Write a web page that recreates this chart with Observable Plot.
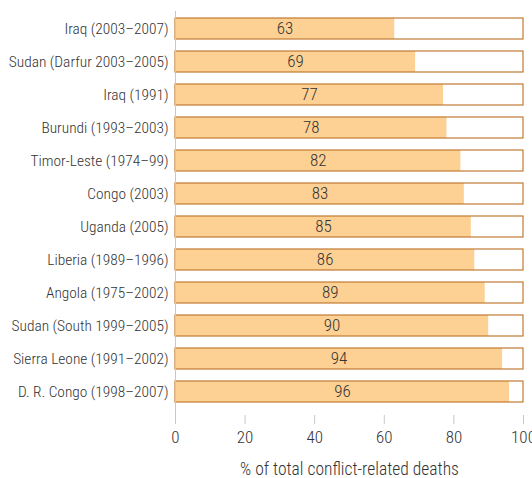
<!DOCTYPE html>
<html>
<head>
<meta charset="utf-8">
<script src="https://cdn.jsdelivr.net/npm/d3@7"></script>
<script src="https://cdn.jsdelivr.net/npm/@observablehq/plot@0.6"></script>
<style>
  html, body { margin: 0; padding: 0; background: #fff; }
  #chart svg { display: block; }
</style>
</head>
<body>
<div id="chart"></div>
<script>
const conflicts = [
  "Iraq (2003–2007)",
  "Sudan (Darfur 2003–2005)",
  "Iraq (1991)",
  "Burundi (1993–2003)",
  "Timor-Leste (1974–99)",
  "Congo (2003)",
  "Uganda (2005)",
  "Liberia (1989–1996)",
  "Angola (1975–2002)",
  "Sudan (South 1999–2005)",
  "Sierra Leone (1991–2002)",
  "D. R. Congo (1998–2007)"
];
const shares = [63, 69, 77, 78, 82, 83, 85, 86, 89, 90, 94, 96];
const xTicks = [0, 20, 40, 60, 80, 100];
const xLabel = "% of total conflict-related deaths";

const data = conflicts.map((c, i) => ({conflict: c, value: shares[i], total: 100}));

const FONT = "'Roboto Condensed', 'Liberation Sans Narrow', Roboto, sans-serif";
const FILL = "#fdd193";
const STROKE = "#c27a33";

const chart = Plot.plot({
  width: 532,
  height: 478,
  marginLeft: 175,
  marginRight: 9,
  marginTop: 11,
  marginBottom: 63,
  style: {fontFamily: FONT, fontSize: "15px", fontWeight: 300, color: "#333", background: "#fff"},
  x: {domain: [0, 100], ticks: xTicks, label: null},
  y: {domain: conflicts, range: [11, 415], paddingInner: 0.353, paddingOuter: 0.248, align: 0.333, label: null},
  marks: [
    Plot.barX(data, {y: "conflict", x: "total", fill: "#fff"}),
    Plot.barX(data, {y: "conflict", x: "value", fill: FILL}),
    Plot.barX(data, {y: "conflict", x: "total", fill: "none", stroke: STROKE, strokeWidth: 1.2}),
    Plot.text(data, {y: "conflict", x: d => d.value / 2, text: d => String(d.value), fontSize: 17, fontWeight: 300, fill: "#333"}),
    Plot.ruleX([0], {stroke: "#c8c8c8", strokeWidth: 1, insetBottom: -9}),
    Plot.axisY({tickSize: 0, tickPadding: 7, fontSize: 15.4, fontWeight: 300, label: null}),
    Plot.axisX({ticks: xTicks, tickSize: 9, tickPadding: 6, fontSize: 17, fontWeight: 300, stroke: "#c8c8c8", label: null}),
    Plot.text([xLabel], {frameAnchor: "bottom", lineAnchor: "middle", dy: 54, fontSize: 17.5, fontWeight: 300, fill: "#333"})
  ]
});
document.getElementById("chart").appendChild(chart);
</script>
</body>
</html>
